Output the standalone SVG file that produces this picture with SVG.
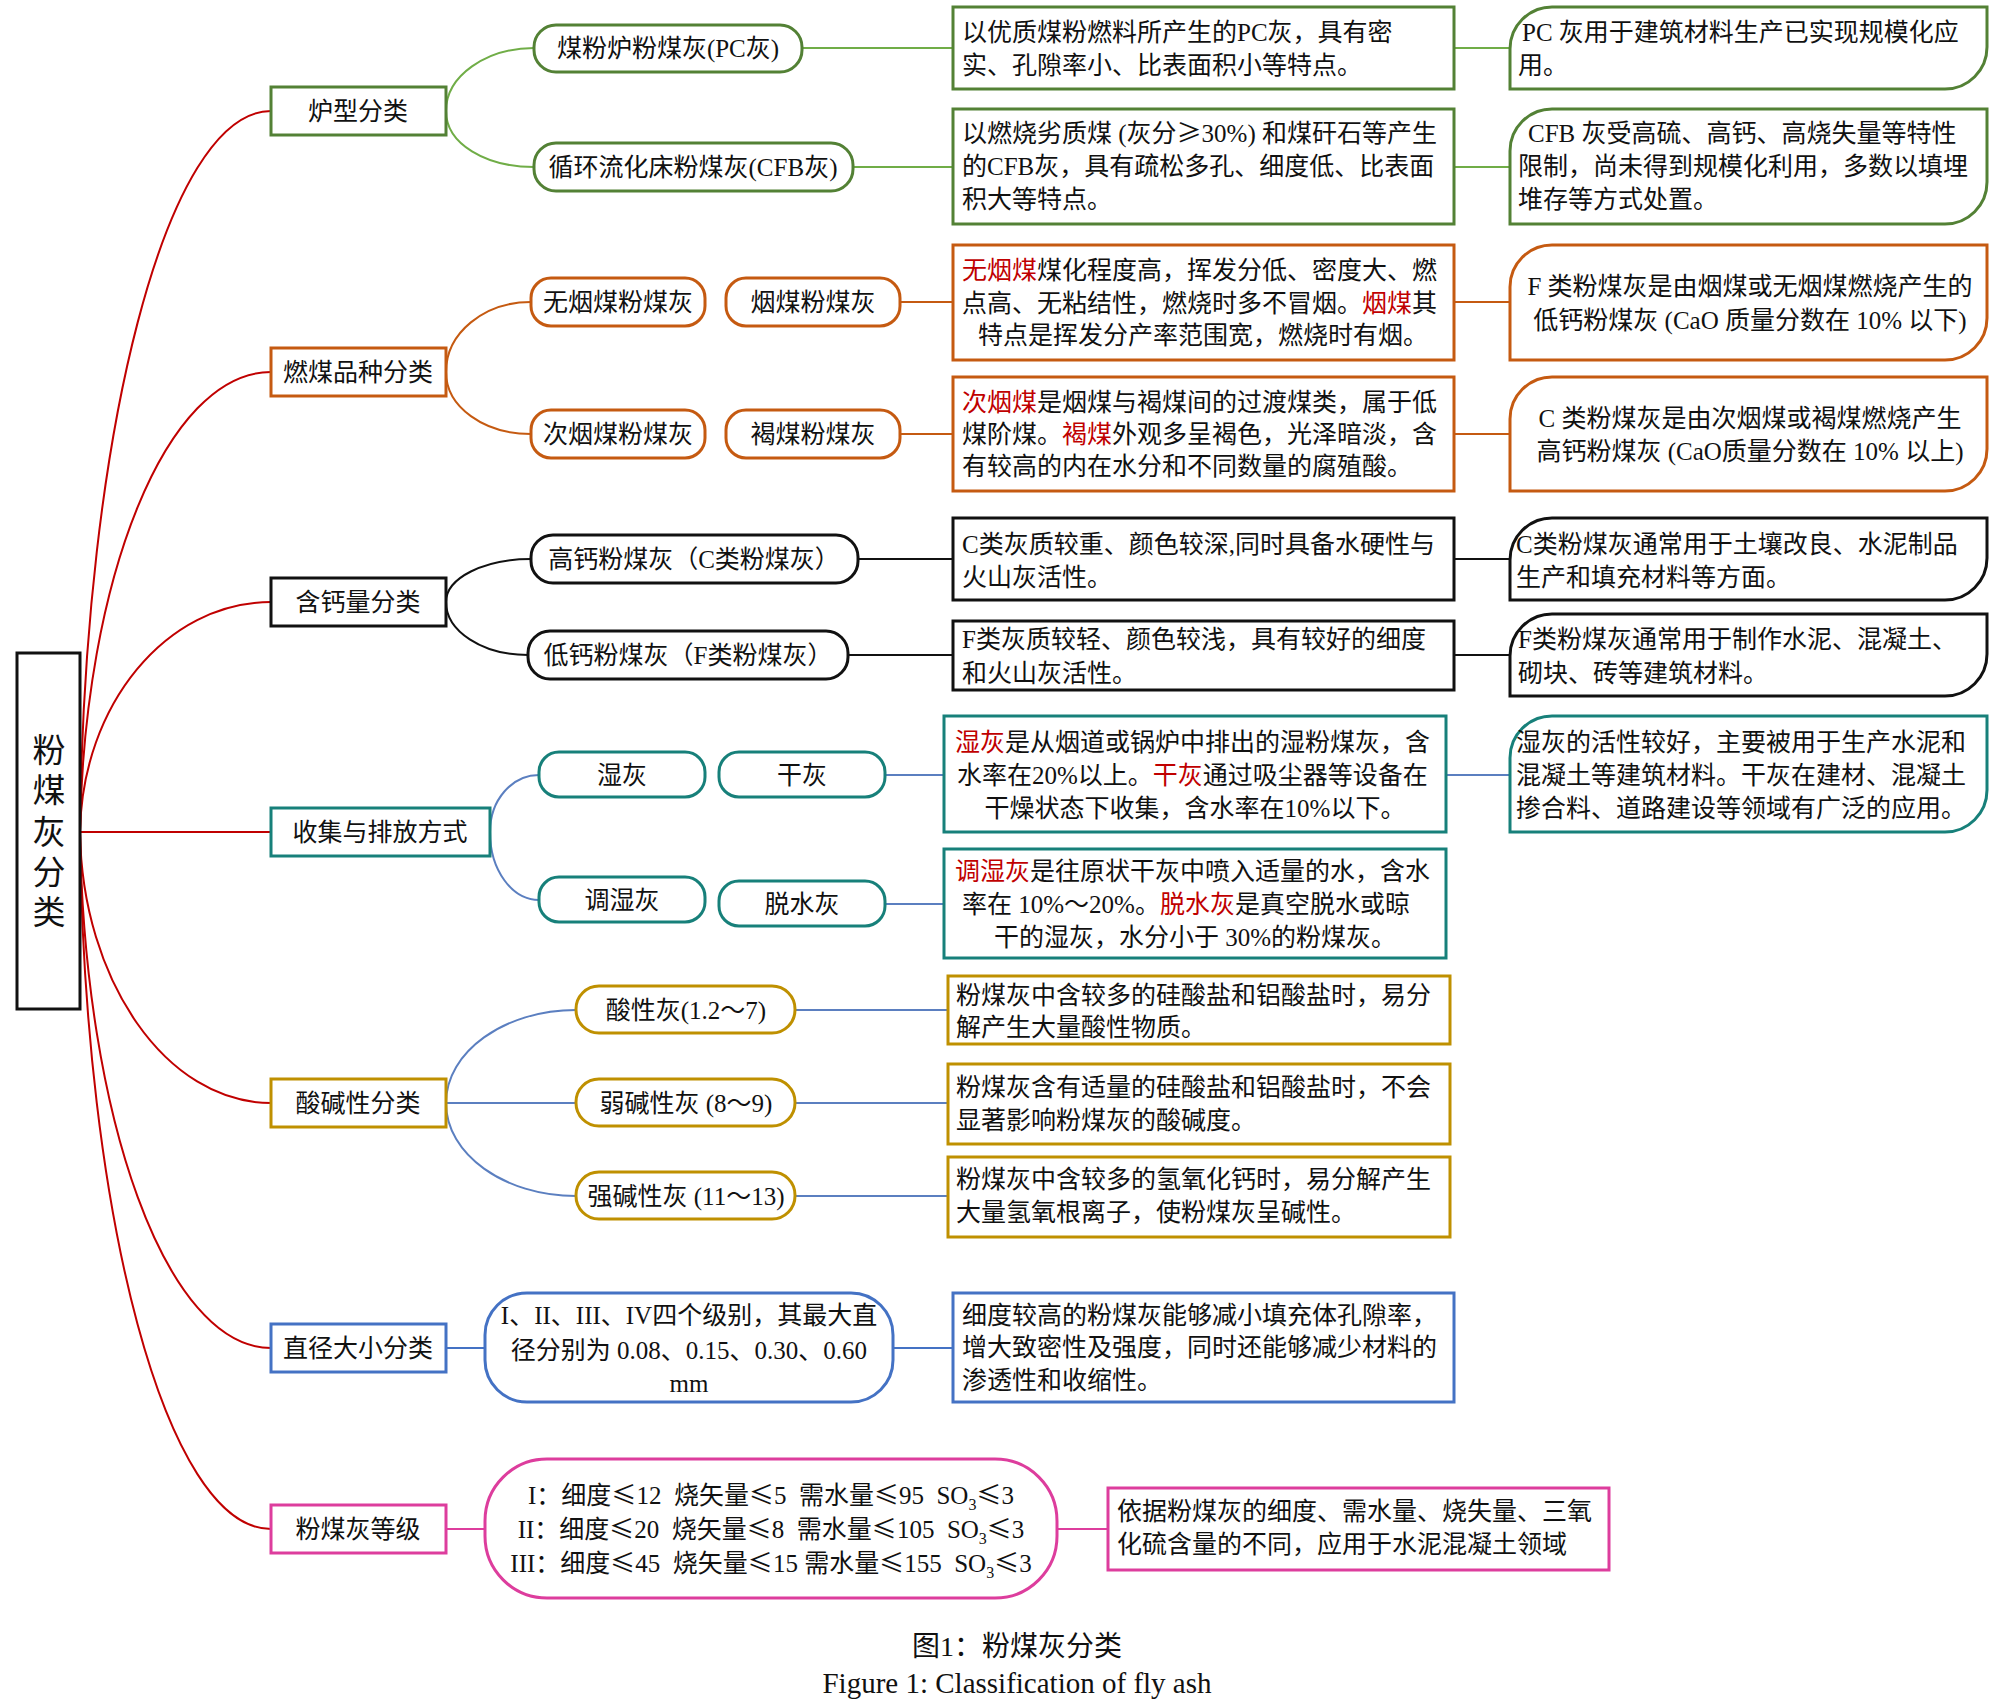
<svg xmlns="http://www.w3.org/2000/svg" width="2000" height="1708" viewBox="0 0 2000 1708">
<style>
text{font-family:"Liberation Serif","Noto Sans CJK SC",serif;font-size:25px;fill:#111}
.c{text-anchor:middle}
.r{fill:#c00000}
.le{font-family:"Noto Sans CJK SC","DejaVu Sans",sans-serif}
.box{fill:#fff;stroke-width:3}
.ln{fill:none;stroke-width:2}
.g{stroke:#538135}.gl{stroke:#70ad47}
.o{stroke:#c55a11}
.k{stroke:#111}
.t{stroke:#17807a}
.y{stroke:#bf9000}
.b{stroke:#4472c4}.bl{stroke:#5b7fc0}
.m{stroke:#dd3d9d}
.red{stroke:#c00000}
</style>
<rect width="2000" height="1708" fill="#fff"/>

<g id="connectors">
  <path class="ln red" d="M80,832 C84,435 166,111 271,111"/>
  <path class="ln red" d="M80,832 C84,579 166,372 271,372"/>
  <path class="ln red" d="M80,832 C82,705 166,602 271,602"/>
  <path class="ln red" d="M80,832 L271,832"/>
  <path class="ln red" d="M80,832 C82,980 166,1103 271,1103"/>
  <path class="ln red" d="M80,832 C84,1117 166,1348 271,1348"/>
  <path class="ln red" d="M80,832 C84,1216 166,1529 271,1529"/>
  <path class="ln gl" d="M446,111 C446,76 486,48 534,48"/>
  <path class="ln gl" d="M446,111 C446,144 486,167 534,167"/>
  <path class="ln gl" d="M802,48 H953 M1454,48 H1510 M853,167 H953 M1454,167 H1510"/>
  <path class="ln o" d="M446,372 C446,333 484,302 531,302"/>
  <path class="ln o" d="M446,372 C446,407 484,434 531,434"/>
  <path class="ln o" d="M900,302 H953 M1454,302 H1510 M900,434 H953 M1454,434 H1510"/>
  <path class="ln k" d="M446,602 C446,578 484,559 531,559"/>
  <path class="ln k" d="M446,602 C446,631 482,655 528,655"/>
  <path class="ln k" d="M858,559 H953 M1454,559 H1510 M848,655 H953 M1454,655 H1510"/>
  <path class="ln bl" d="M490,832 C490,800 512,775 539,775"/>
  <path class="ln bl" d="M490,832 C490,870 512,900 539,900"/>
  <path class="ln bl" d="M885,775 H944 M1446,775 H1510 M885,904 H944"/>
  <path class="ln bl" d="M446,1103 C446,1052 504,1010 576,1010"/>
  <path class="ln bl" d="M446,1103 H576"/>
  <path class="ln bl" d="M446,1103 C446,1154 504,1196 576,1196"/>
  <path class="ln bl" d="M795,1010 H948 M795,1103 H948 M795,1196 H948"/>
  <path class="ln b" d="M446,1348 H485 M893,1348 H953"/>
  <path class="ln m" d="M446,1529 H485 M1057,1529 H1108"/>
</g>

<g id="root">
  <rect class="box k" x="17" y="653" width="63" height="356"/>
  <text class="c" style="font-size:33px" x="49" y="762">粉</text>
  <text class="c" style="font-size:33px" x="49" y="802">煤</text>
  <text class="c" style="font-size:33px" x="49" y="844">灰</text>
  <text class="c" style="font-size:33px" x="49" y="884">分</text>
  <text class="c" style="font-size:33px" x="49" y="924">类</text>
</g>

<g id="n-luxing">
  <rect class="box g" x="271" y="87" width="175" height="48"/>
  <text class="c" x="358" y="120">炉型分类</text>
</g>
<g id="n-pc">
  <rect class="box g" x="534" y="25" width="268" height="47" rx="22"/>
  <text class="c" x="668" y="57">煤粉炉粉煤灰(PC灰)</text>
</g>
<g id="n-cfb">
  <rect class="box g" x="534" y="143" width="319" height="48" rx="22"/>
  <text class="c" x="693" y="176">循环流化床粉煤灰(CFB灰)</text>
</g>
<g id="d-pc">
  <rect class="box g" x="953" y="7" width="501" height="82"/>
  <text x="962" y="41">以优质煤粉燃料所产生的PC灰，具有密</text>
  <text x="962" y="74">实、孔隙率小、比表面积小等特点。</text>
</g>
<g id="d-cfb">
  <rect class="box g" x="953" y="109" width="501" height="115"/>
  <text x="962" y="142">以燃烧劣质煤 (灰分<tspan class="le">≥</tspan>30%) 和煤矸石等产生</text>
  <text x="962" y="175">的CFB灰，具有疏松多孔、细度低、比表面</text>
  <text x="962" y="208">积大等特点。</text>
</g>
<g id="u-pc">
  <path class="box g" d="M1510,89 V49 A42,42 0 0 1 1552,7 H1987 V47 A42,42 0 0 1 1945,89 Z"/>
  <text x="1522" y="41">PC 灰用于建筑材料生产已实现规模化应</text>
  <text x="1518" y="74">用。</text>
</g>
<g id="u-cfb">
  <path class="box g" d="M1510,224 V151 A42,42 0 0 1 1552,109 H1987 V182 A42,42 0 0 1 1945,224 Z"/>
  <text x="1528" y="142">CFB 灰受高硫、高钙、高烧失量等特性</text>
  <text x="1518" y="175">限制，尚未得到规模化利用，多数以填埋</text>
  <text x="1518" y="208">堆存等方式处置。</text>
</g>

<g id="n-ranmei">
  <rect class="box o" x="271" y="348" width="175" height="48"/>
  <text class="c" x="358" y="381">燃煤品种分类</text>
</g>
<g id="n-wuyan">
  <rect class="box o" x="531" y="278" width="174" height="48" rx="20"/>
  <text class="c" x="618" y="311">无烟煤粉煤灰</text>
</g>
<g id="n-yan">
  <rect class="box o" x="726" y="278" width="174" height="48" rx="20"/>
  <text class="c" x="813" y="311">烟煤粉煤灰</text>
</g>
<g id="n-ciyan">
  <rect class="box o" x="531" y="410" width="174" height="48" rx="20"/>
  <text class="c" x="618" y="443">次烟煤粉煤灰</text>
</g>
<g id="n-he">
  <rect class="box o" x="726" y="410" width="174" height="48" rx="20"/>
  <text class="c" x="813" y="443">褐煤粉煤灰</text>
</g>
<g id="d-yan">
  <rect class="box o" x="953" y="245" width="501" height="115"/>
  <text x="962" y="279"><tspan class="r">无烟煤</tspan>煤化程度高，挥发分低、密度大、燃</text>
  <text x="962" y="312">点高、无粘结性，燃烧时多不冒烟。<tspan class="r">烟煤</tspan>其</text>
  <text x="978" y="344">特点是挥发分产率范围宽，燃烧时有烟。</text>
</g>
<g id="d-he">
  <rect class="box o" x="953" y="377" width="501" height="114"/>
  <text x="962" y="411"><tspan class="r">次烟煤</tspan>是烟煤与褐煤间的过渡煤类，属于低</text>
  <text x="962" y="443">煤阶煤。<tspan class="r">褐煤</tspan>外观多呈褐色，光泽暗淡，含</text>
  <text x="962" y="475">有较高的内在水分和不同数量的腐殖酸。</text>
</g>
<g id="u-yan">
  <path class="box o" d="M1510,360 V287 A42,42 0 0 1 1552,245 H1987 V318 A42,42 0 0 1 1945,360 Z"/>
  <text class="c" x="1750" y="295">F 类粉煤灰是由烟煤或无烟煤燃烧产生的</text>
  <text class="c" x="1750" y="329">低钙粉煤灰 (CaO 质量分数在 10% 以下)</text>
</g>
<g id="u-he">
  <path class="box o" d="M1510,491 V419 A42,42 0 0 1 1552,377 H1987 V449 A42,42 0 0 1 1945,491 Z"/>
  <text class="c" x="1750" y="427">C 类粉煤灰是由次烟煤或褐煤燃烧产生</text>
  <text class="c" x="1750" y="460">高钙粉煤灰 (CaO质量分数在 10% 以上)</text>
</g>

<g id="n-hangai">
  <rect class="box k" x="271" y="578" width="175" height="48"/>
  <text class="c" x="358" y="611">含钙量分类</text>
</g>
<g id="n-gaogai">
  <rect class="box k" x="531" y="535" width="327" height="48" rx="22"/>
  <text class="c" x="694" y="568">高钙粉煤灰（C类粉煤灰）</text>
</g>
<g id="n-digai">
  <rect class="box k" x="528" y="631" width="320" height="48" rx="22"/>
  <text class="c" x="688" y="664">低钙粉煤灰（F类粉煤灰）</text>
</g>
<g id="d-gaogai">
  <rect class="box k" x="953" y="518" width="501" height="82"/>
  <text x="962" y="553">C类灰质较重、颜色较深,同时具备水硬性与</text>
  <text x="962" y="586">火山灰活性。</text>
</g>
<g id="d-digai">
  <rect class="box k" x="953" y="621" width="501" height="69"/>
  <text x="962" y="648">F类灰质较轻、颜色较浅，具有较好的细度</text>
  <text x="962" y="682">和火山灰活性。</text>
</g>
<g id="u-gaogai">
  <path class="box k" d="M1510,600 V560 A42,42 0 0 1 1552,518 H1987 V558 A42,42 0 0 1 1945,600 Z"/>
  <text x="1516" y="553">C类粉煤灰通常用于土壤改良、水泥制品</text>
  <text x="1516" y="586">生产和填充材料等方面。</text>
</g>
<g id="u-digai">
  <path class="box k" d="M1510,696 V656 A42,42 0 0 1 1552,614 H1987 V654 A42,42 0 0 1 1945,696 Z"/>
  <text x="1518" y="648">F类粉煤灰通常用于制作水泥、混凝土、</text>
  <text x="1518" y="682">砌块、砖等建筑材料。</text>
</g>

<g id="n-shouji">
  <rect class="box t" x="271" y="808" width="219" height="48"/>
  <text class="c" x="380" y="841">收集与排放方式</text>
</g>
<g id="n-shi">
  <rect class="box t" x="539" y="752" width="166" height="45" rx="20"/>
  <text class="c" x="622" y="784">湿灰</text>
</g>
<g id="n-gan">
  <rect class="box t" x="719" y="752" width="166" height="45" rx="20"/>
  <text class="c" x="802" y="784">干灰</text>
</g>
<g id="n-tiaoshi">
  <rect class="box t" x="539" y="877" width="166" height="45" rx="20"/>
  <text class="c" x="622" y="909">调湿灰</text>
</g>
<g id="n-tuoshui">
  <rect class="box t" x="719" y="881" width="166" height="45" rx="20"/>
  <text class="c" x="802" y="913">脱水灰</text>
</g>
<g id="d-gan">
  <rect class="box t" x="944" y="716" width="502" height="116"/>
  <text x="955" y="751"><tspan class="r">湿灰</tspan>是从烟道或锅炉中排出的湿粉煤灰，含</text>
  <text x="957" y="784">水率在20%以上。<tspan class="r">干灰</tspan>通过吸尘器等设备在</text>
  <text class="c" x="1195" y="817">干燥状态下收集，含水率在10%以下。</text>
</g>
<g id="d-tuoshui">
  <rect class="box t" x="944" y="849" width="502" height="109"/>
  <text x="955" y="880"><tspan class="r">调湿灰</tspan>是往原状干灰中喷入适量的水，含水</text>
  <text x="962" y="913">率在 10%～20%。<tspan class="r">脱水灰</tspan>是真空脱水或晾</text>
  <text class="c" x="1195" y="946">干的湿灰，水分小于 30%的粉煤灰。</text>
</g>
<g id="u-gan">
  <path class="box t" d="M1510,832 V758 A42,42 0 0 1 1552,716 H1987 V790 A42,42 0 0 1 1945,832 Z"/>
  <text x="1516" y="751">湿灰的活性较好，主要被用于生产水泥和</text>
  <text x="1516" y="784">混凝土等建筑材料。干灰在建材、混凝土</text>
  <text x="1516" y="817">掺合料、道路建设等领域有广泛的应用。</text>
</g>

<g id="n-suanjian">
  <rect class="box y" x="271" y="1079" width="175" height="48"/>
  <text class="c" x="358" y="1112">酸碱性分类</text>
</g>
<g id="n-suan">
  <rect class="box y" x="576" y="986" width="219" height="47" rx="23"/>
  <text class="c" x="686" y="1019">酸性灰(1.2～7)</text>
</g>
<g id="n-ruojian">
  <rect class="box y" x="576" y="1079" width="219" height="47" rx="23"/>
  <text class="c" x="686" y="1112">弱碱性灰 (8～9)</text>
</g>
<g id="n-qiangjian">
  <rect class="box y" x="576" y="1172" width="219" height="47" rx="23"/>
  <text class="c" x="686" y="1205">强碱性灰 (11～13)</text>
</g>
<g id="d-suan">
  <rect class="box y" x="948" y="976" width="502" height="68"/>
  <text x="956" y="1004">粉煤灰中含较多的硅酸盐和铝酸盐时，易分</text>
  <text x="956" y="1036">解产生大量酸性物质。</text>
</g>
<g id="d-ruojian">
  <rect class="box y" x="948" y="1064" width="502" height="80"/>
  <text x="956" y="1096">粉煤灰含有适量的硅酸盐和铝酸盐时，不会</text>
  <text x="956" y="1129">显著影响粉煤灰的酸碱度。</text>
</g>
<g id="d-qiangjian">
  <rect class="box y" x="948" y="1157" width="502" height="80"/>
  <text x="956" y="1188">粉煤灰中含较多的氢氧化钙时，易分解产生</text>
  <text x="956" y="1221">大量氢氧根离子，使粉煤灰呈碱性。</text>
</g>

<g id="n-zhijing">
  <rect class="box b" x="271" y="1324" width="175" height="48"/>
  <text class="c" x="358" y="1357">直径大小分类</text>
</g>
<g id="n-jibie">
  <rect class="box b" x="485" y="1293" width="408" height="109" rx="42"/>
  <text class="c" x="689" y="1324">I、II、III、IV四个级别，其最大直</text>
  <text class="c" x="689" y="1359">径分别为 0.08、0.15、0.30、0.60</text>
  <text class="c" x="689" y="1392">mm</text>
</g>
<g id="d-zhijing">
  <rect class="box b" x="953" y="1293" width="501" height="109"/>
  <text x="962" y="1324">细度较高的粉煤灰能够减小填充体孔隙率，</text>
  <text x="962" y="1356">增大致密性及强度，同时还能够减少材料的</text>
  <text x="962" y="1389">渗透性和收缩性。</text>
</g>

<g id="n-dengji">
  <rect class="box m" x="271" y="1505" width="175" height="48"/>
  <text class="c" x="358" y="1538">粉煤灰等级</text>
</g>
<g id="n-grades">
  <rect class="box m" x="485" y="1459" width="572" height="139" rx="62"/>
  <text class="c" x="771" y="1504" xml:space="preserve">I：细度<tspan class="le">≤</tspan>12  烧矢量<tspan class="le">≤</tspan>5  需水量<tspan class="le">≤</tspan>95  SO<tspan style="font-size:16px" dy="6">3</tspan><tspan class="le" dy="-6">≤</tspan>3</text>
  <text class="c" x="771" y="1538" xml:space="preserve">II：细度<tspan class="le">≤</tspan>20  烧矢量<tspan class="le">≤</tspan>8  需水量<tspan class="le">≤</tspan>105  SO<tspan style="font-size:16px" dy="6">3</tspan><tspan class="le" dy="-6">≤</tspan>3</text>
  <text class="c" x="771" y="1572" xml:space="preserve">III：细度<tspan class="le">≤</tspan>45  烧矢量<tspan class="le">≤</tspan>15 需水量<tspan class="le">≤</tspan>155  SO<tspan style="font-size:16px" dy="6">3</tspan><tspan class="le" dy="-6">≤</tspan>3</text>
</g>
<g id="d-dengji">
  <rect class="box m" x="1108" y="1488" width="501" height="82"/>
  <text x="1117" y="1520">依据粉煤灰的细度、需水量、烧失量、三氧</text>
  <text x="1117" y="1553">化硫含量的不同，应用于水泥混凝土领域</text>
</g>

<g id="caption">
  <text class="c" style="font-size:28px" x="1017" y="1656">图1：粉煤灰分类</text>
  <text class="c" style="font-size:29px" x="1017" y="1693">Figure 1: Classification of fly ash</text>
</g>
</svg>
